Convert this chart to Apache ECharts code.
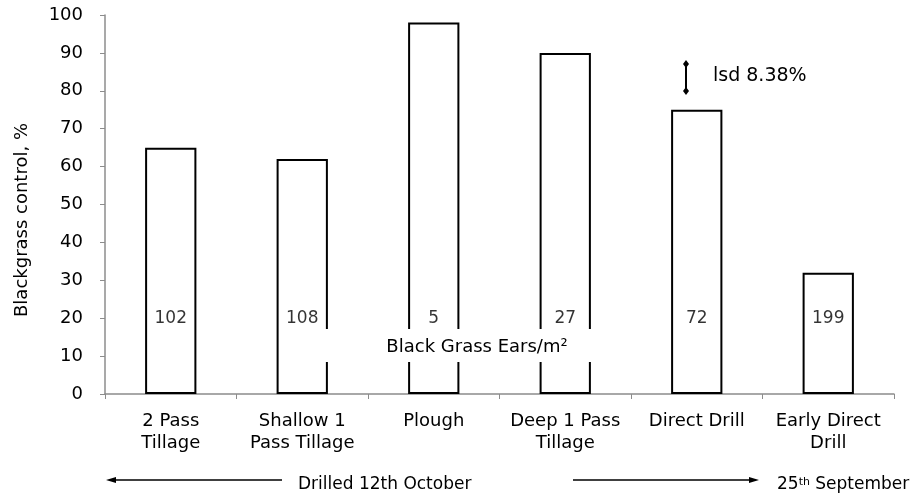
<!DOCTYPE html>
<html>
<head>
<meta charset="utf-8">
<script src="https://cdn.jsdelivr.net/npm/echarts@6/dist/echarts.min.js"></script>
<style>
  html, body { margin: 0; padding: 0; background: #fff; }
  #main { width: 922px; height: 496px; }
</style>
</head>
<body>
<div id="main"></div>
<script>
var categories = ['2 Pass\nTillage', 'Shallow 1\nPass Tillage', 'Plough', 'Deep 1 Pass\nTillage', 'Direct Drill', 'Early Direct\nDrill'];
var control = [65, 62, 98, 90, 75, 32];
var ears = [102, 108, 5, 27, 72, 199];
var earsLevel = [20, 20, 20, 20, 20, 20];
var yTicks = { min: 0, max: 100, interval: 10 };

var font = 'DejaVu Sans';

var myChart = echarts.init(document.getElementById('main'));
var option = {
  animation: false,
  textStyle: { fontFamily: font },
  grid: { left: 105, right: 28, top: 15, bottom: 102 },
  xAxis: {
    type: 'category',
    data: categories,
    axisLine: { lineStyle: { color: '#8c8c8c', width: 1.5 } },
    axisTick: { show: true, length: 5, lineStyle: { color: '#8c8c8c' } },
    axisLabel: { color: '#000', fontSize: 18, lineHeight: 22, margin: 16, interval: 0 }
  },
  yAxis: {
    type: 'value',
    min: yTicks.min, max: yTicks.max, interval: yTicks.interval,
    axisLine: { show: true, lineStyle: { color: '#8c8c8c', width: 1.5 } },
    axisTick: { show: true, length: 5, lineStyle: { color: '#8c8c8c' } },
    axisLabel: { color: '#000', fontSize: 18, margin: 22 },
    splitLine: { show: false }
  },
  series: [
    {
      type: 'bar',
      data: control,
      barWidth: '39%',
      itemStyle: { color: '#fff', borderColor: '#000', borderWidth: 2 }
    },
    {
      type: 'scatter',
      data: earsLevel,
      symbolSize: 0,
      z: 5,
      label: {
        show: true,
        position: 'inside',
        color: '#000',
        fontSize: 17,
        formatter: function (p) { return ears[p.dataIndex]; }
      }
    }
  ],
  graphic: [
    {
      type: 'text',
      x: 22, y: 220,
      rotation: Math.PI / 2,
      style: { text: 'Blackgrass control, %', font: '18px "' + font + '"', fill: '#000', align: 'center', verticalAlign: 'middle' }
    },
    {
      type: 'rect',
      shape: { x: 325, y: 329, width: 300, height: 33 },
      style: { fill: '#fff' },
      z: 10
    },
    {
      type: 'text',
      x: 477, y: 347,
      style: { text: 'Black Grass Ears/m\u00b2', font: '18px "' + font + '"', fill: '#000', align: 'center', verticalAlign: 'middle' },
      z: 11
    },
    {
      type: 'line',
      shape: { x1: 686, y1: 64, x2: 686, y2: 91 },
      style: { stroke: '#000', lineWidth: 2 },
      z: 11
    },
    {
      type: 'polygon',
      shape: { points: [[686, 60], [689, 64], [686, 68], [683, 64]] },
      style: { fill: '#000' }, z: 11
    },
    {
      type: 'polygon',
      shape: { points: [[686, 87], [689, 91], [686, 95], [683, 91]] },
      style: { fill: '#000' }, z: 11
    },
    {
      type: 'text',
      x: 713, y: 76,
      style: { text: 'lsd 8.38%', font: '19px "' + font + '"', fill: '#000', verticalAlign: 'middle' },
      z: 11
    },
    {
      type: 'line',
      shape: { x1: 282, y1: 480, x2: 112, y2: 480 },
      style: { stroke: '#000', lineWidth: 1.5 }
    },
    {
      type: 'polygon',
      shape: { points: [[106, 480], [116, 477], [116, 483]] },
      style: { fill: '#000' }
    },
    {
      type: 'text',
      x: 298, y: 485,
      style: { text: 'Drilled 12th October', font: '17px "' + font + '"', fill: '#000', verticalAlign: 'middle' }
    },
    {
      type: 'line',
      shape: { x1: 573, y1: 480, x2: 752, y2: 480 },
      style: { stroke: '#000', lineWidth: 1.5 }
    },
    {
      type: 'polygon',
      shape: { points: [[759, 480], [749, 477], [749, 483]] },
      style: { fill: '#000' }
    },
    {
      type: 'text',
      x: 777, y: 485,
      style: {
        text: '{n|25}{s|th}{n| September}',
        rich: {
          n: { fontFamily: font, fontSize: 17, fill: '#000', verticalAlign: 'bottom' },
          s: { fontFamily: font, fontSize: 11, fill: '#000', verticalAlign: 'top' }
        },
        verticalAlign: 'middle'
      }
    }
  ]
};
myChart.setOption(option);
</script>
</body>
</html>
